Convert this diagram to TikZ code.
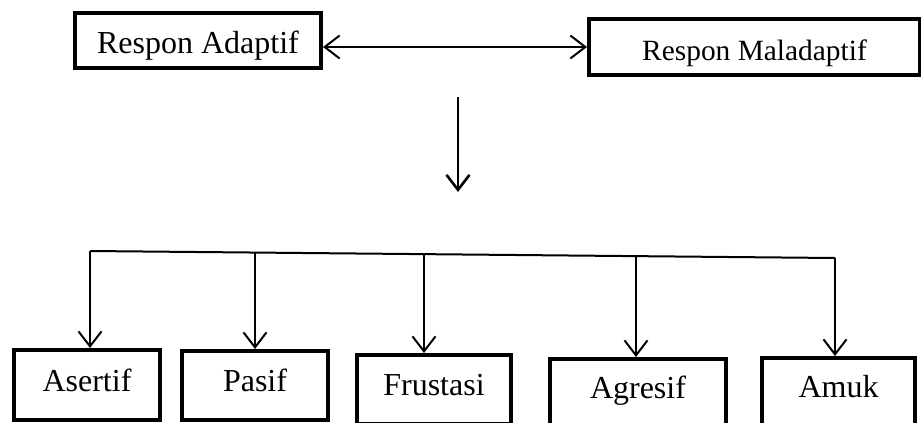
\documentclass[tikz,border=0pt]{standalone}
\usepackage{fontspec}
\setmainfont{Liberation Serif}
\usetikzlibrary{positioning,arrows.meta}

\begin{document}
\begin{tikzpicture}[x=0.5pt, y=-0.5pt, line width=1pt,
  box/.style={draw, line width=2pt, inner sep=0pt, anchor=base,
              font=\fontsize{16}{19}\selectfont},
  arr/.style={-{Straight Barb[length=7.5pt, width=11.5pt]}},
  biarr/.style={{Straight Barb[length=7.5pt, width=11.5pt]}-{Straight Barb[length=7.5pt, width=11.5pt]}}]
  \useasboundingbox (0,0) rectangle (921,423);
  \clip (0,0) rectangle (921,423);
  % top row
  \node[box, minimum width=123pt, text height=20.5pt, text depth=7pt] (ad) at (198,54) {Respon Adaptif};
  \node[box, minimum width=165.5pt, text height=21pt, text depth=7pt,
        font=\fontsize{14.7}{17}\selectfont] (mal) at (754.5,61) {Respon Maladaptif};
  \draw[biarr] (ad.east |- mal.west) -- (mal.west);
  \coordinate (v1) at (458,97);
  \coordinate (v2) at (458,192);
  \draw[arr, line width=1.3pt] (v1) -- (v2);
  % bottom row
  \node[box, minimum width=73pt, text height=20.5pt, text depth=14.5pt] (as) at (87,391) {Asertif};
  \node[box, minimum width=73pt, text height=20pt, text depth=14.5pt] (pa) at (255,391) {Pasif};
  \node[box, minimum width=77pt, text height=20pt, text depth=14.5pt] (fr) at (434,395) {Frustasi};
  \node[box, minimum width=88pt, text height=19.5pt, text depth=21pt] (ag) at (638,398) {Agresif};
  \node[box, minimum width=76.5pt, text height=19.5pt, text depth=21.5pt] (am) at (838.5,397) {Amuk};
  % bus
  \coordinate (b1) at (90,251);
  \coordinate (b2) at (255,252.5);
  \coordinate (b3) at (424,254.1);
  \coordinate (b4) at (636,256.1);
  \coordinate (b5) at (835,258);
  \draw (b1) -- (b5);
  \draw[arr] (b1) -- (b1 |- as.north);
  \draw[arr] (b2) -- (b2 |- pa.north);
  \draw[arr] (b3) -- (b3 |- fr.north);
  \draw[arr] (b4) -- (b4 |- ag.north);
  \draw[arr] (b5) -- (b5 |- am.north);
\end{tikzpicture}
\end{document}
